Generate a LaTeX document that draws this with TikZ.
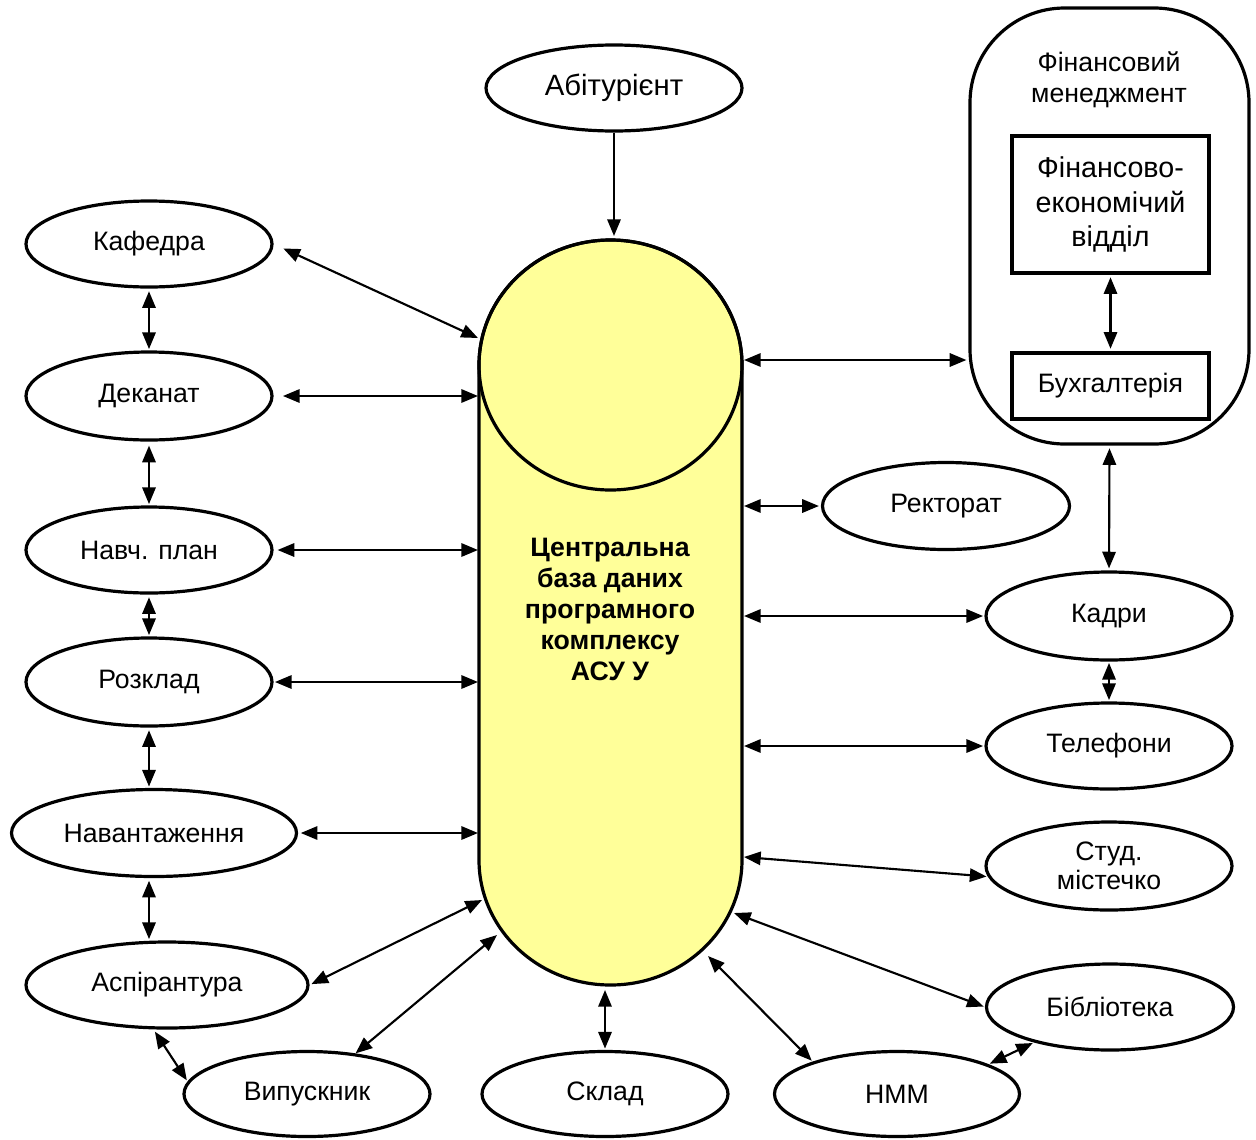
\documentclass[tikz,border=0pt]{standalone}
\usepackage{fontspec}
\setmainfont{Liberation Sans}
\usetikzlibrary{shapes.geometric,arrows.meta}
\begin{document}
\begin{tikzpicture}[x=0.75pt,y=-0.75pt,
  el/.style 2 args={ellipse, draw, line width=2.4pt, inner sep=0pt,
    minimum width=#1*0.75pt, minimum height=#2*0.75pt,
    font=\fontsize{20}{22}\selectfont, align=center},
  bx/.style 2 args={rectangle, draw, line width=2.4pt, inner sep=0pt,
    minimum width=#1*0.75pt, minimum height=#2*0.75pt, align=center},
  arr/.style={{Triangle[length=12.5pt,width=10pt]}-{Triangle[length=12.5pt,width=10pt]}, line width=1.6pt},
  sarr/.style={-{Triangle[length=12.5pt,width=10pt]}, line width=1.6pt}
]
\useasboundingbox (0,0) rectangle (1256,1139);
\definecolor{dbyellow}{HTML}{FFFF99}

% central database cylinder
\draw[line width=2.4pt, fill=dbyellow]
  (479,365) -- (479,860) arc[start angle=180, end angle=360, x radius=131.5, y radius=-125]
  -- (742,365) arc[start angle=0, end angle=180, x radius=131.5, y radius=-125] -- cycle;
\draw[line width=2.4pt] (610.5,365) ellipse[x radius=131.5, y radius=125];
\node[font=\bfseries\fontsize{20}{23.25}\selectfont, align=center] (db) at (610,609)
  {Центральна\\база даних\\програмного\\комплексу\\АСУ У};

% cylinder contact points
\coordinate (cAbit) at (614,236);
\coordinate (cKaf) at (478,338);
\coordinate (cDek) at (478,396);
\coordinate (cNav) at (478,550);
\coordinate (cRoz) at (478,682);
\coordinate (cNvt) at (478,833);
\coordinate (cAsp) at (482,900);
\coordinate (cVyp) at (497,935);
\coordinate (cSkl) at (605,990);
\coordinate (cNmm) at (708,956);
\coordinate (cBib) at (734,913);
\coordinate (cStud) at (744,857);
\coordinate (cTel) at (744,746);
\coordinate (cKad) at (744,616);
\coordinate (cRek) at (744,506);
\coordinate (cFm) at (744,360);

% ellipses
\node[el={256}{86}, font=\fontsize{22}{24}\selectfont] (abit) at (614,88) {Абітурієнт};
\node[el={246}{86}] (kaf) at (149,244) {Кафедра};
\node[el={246}{88}] (dek) at (149,396) {Деканат};
\node[el={246}{86}] (nav) at (149,550) {Навч. план};
\node[el={246}{88}] (roz) at (149,682) {Розклад};
\node[el={285}{87}] (nvt) at (154,833) {Навантаження};
\node[el={282}{86}] (asp) at (167,985) {Аспірантура};
\node[el={246}{85}] (vyp) at (307,1094) {Випускник};
\node[el={246}{85}] (skl) at (605,1094) {Склад};
\node[el={245}{85}] (nmm) at (897,1094) {НММ};
\node[el={247}{86}] (bib) at (1110,1007) {Бібліотека};
\node[el={246}{88}] (stud) at (1109,866) {Студ.\\містечко};
\node[el={246}{86}] (tel) at (1109,746) {Телефони};
\node[el={246}{88}] (kad) at (1109,616) {Кадри};
\node[el={247}{87}] (rek) at (946,506) {Ректорат};

% financial management
\node[bx={279}{436}, rounded corners=71pt] (fm) at (1109.5,226) {};
\node[font=\fontsize{20}{23.25}\selectfont, align=center] (fmt) at (1109,80) {Фінансовий\\менеджмент};
\node[bx={197}{137}, font=\fontsize{21.5}{26}\selectfont] (fe) at (1110.5,204.5) {Фінансово-\\економічий\\відділ};
\node[bx={197}{66}, font=\fontsize{20}{22}\selectfont] (bh) at (1110.5,386) {Бухгалтерія};

% connectors
\draw[sarr] (abit.south) -- (cAbit);
\draw[arr, shorten <=8pt] (kaf.east) -- (cKaf);
\draw[arr, shorten <=2pt, shorten >=1pt] (kaf.south) -- (dek.north);
\draw[arr, shorten <=7pt] (dek.east) -- (cDek);
\draw[arr, shorten <=3pt, shorten >=1pt] (dek.south) -- (nav.north);
\draw[arr, shorten <=3pt] (nav.east) -- (cNav);
\draw[arr, shorten <=2pt, shorten >=1pt] (nav.south) -- (roz.north);
\draw[arr, shorten <=1pt] (roz.east) -- (cRoz);
\draw[arr, shorten <=2pt, shorten >=1pt] (roz.south) -- (roz.south |- nvt.north);
\draw[arr, shorten <=2pt] (nvt.east) -- (cNvt);
\draw[arr, shorten <=2pt, shorten >=1pt] (nvt.south -| roz.south) -- (asp.north -| roz.south);
\draw[arr, shorten <=1.5pt] (asp.east) -- (cAsp);
\draw[arr, shorten <=2pt, shorten >=1pt] (asp.253) -- (vyp.174);
\draw[arr] (vyp) -- (cVyp);
\draw[arr, shorten <=1pt] (skl.north) -- (cSkl);
\draw[arr, shorten <=1pt] (nmm.159) -- (cNmm);
\draw[arr, shorten <=1pt, shorten >=1pt] (nmm.18) -- (bib.205);
\draw[arr, shorten <=1pt] (bib.west) -- (cBib);
\draw[arr, shorten <=1pt] (stud.185) -- (cStud);
\draw[arr, shorten <=1pt] (tel.west) -- (cTel);
\draw[arr, shorten <=1pt, shorten >=1pt] (kad.south) -- (tel.north);
\draw[arr, shorten <=1pt] (kad.west) -- (cKad);
\draw[arr, shorten <=1.5pt] (rek.west) -- (cRek);
\draw[arr, shorten >=1.5pt] (cFm) -- (cFm -| fm.west);
\draw[arr, shorten <=2pt, shorten >=1.5pt] (fm.south) -- (kad.north);
\draw[arr, shorten <=2pt, shorten >=2pt] (fe.south) -- (bh.north);
\end{tikzpicture}
\end{document}
